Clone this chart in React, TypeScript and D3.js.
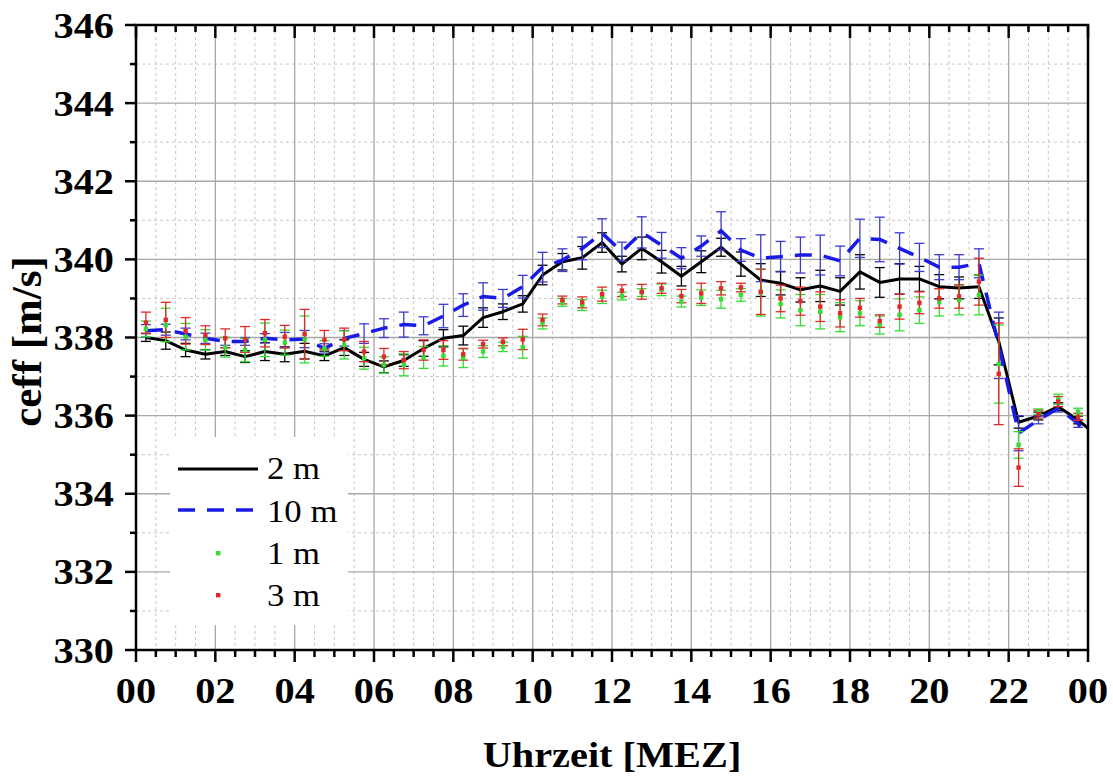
import React from "react";
import * as d3 from "d3";

const times = [0.25,0.75,1.25,1.75,2.25,2.75,3.25,3.75,4.25,4.75,5.25,5.75,6.25,6.75,7.25,7.75,8.25,8.75,9.25,9.75,10.25,10.75,11.25,11.75,12.25,12.75,13.25,13.75,14.25,14.75,15.25,15.75,16.25,16.75,17.25,17.75,18.25,18.75,19.25,19.75,20.25,20.75,21.25,21.75,22.25,22.75,23.25,23.75,24.25];

const m2 = [338.00,337.92,337.68,337.57,337.64,337.51,337.64,337.57,337.65,337.53,337.74,337.44,337.25,337.41,337.72,337.98,338.05,338.51,338.66,338.86,339.60,339.94,340.04,340.43,339.88,340.28,339.94,339.57,339.94,340.31,339.88,339.47,339.39,339.22,339.32,339.18,339.68,339.41,339.50,339.50,339.30,339.27,339.30,337.90,335.83,335.99,336.23,335.89,335.46];
const m2Err = [0.1,0.22,0.17,0.12,0.1,0.15,0.23,0.19,0.2,0.12,0.2,0.18,0.15,0.15,0.2,0.22,0.24,0.25,0.2,0.21,0.25,0.21,0.29,0.25,0.2,0.29,0.29,0.25,0.28,0.23,0.31,0.42,0.3,0.31,0.4,0.35,0.44,0.38,0.39,0.32,0.31,0.28,0.3,0.6,0.15,0.1,0.1,0.1,0.1];

const m10 = [338.17,338.20,338.09,337.98,337.90,337.90,337.98,337.94,337.96,337.72,337.98,338.10,338.24,338.33,338.30,338.55,338.83,339.05,339.00,339.30,339.80,339.98,340.28,340.67,340.20,340.69,340.36,340.03,340.34,340.73,340.24,340.03,340.07,340.11,340.11,339.96,340.54,340.51,340.28,340.05,339.80,339.80,339.90,337.80,335.55,335.89,336.19,335.80,335.20];
const m10Err = [0.16,0.14,0.15,0.13,0.1,0.1,0.12,0.19,0.22,0.12,0.2,0.25,0.24,0.32,0.23,0.3,0.29,0.35,0.23,0.29,0.38,0.29,0.29,0.37,0.24,0.4,0.33,0.27,0.26,0.49,0.29,0.6,0.39,0.46,0.51,0.38,0.49,0.57,0.4,0.36,0.32,0.32,0.37,0.85,0.45,0.1,0.1,0.1,0.1];

const m1 = [338.22,338.32,338.02,337.94,337.75,337.68,337.94,337.87,337.95,337.72,337.81,337.47,337.30,337.30,337.49,337.53,337.47,337.64,337.76,337.75,338.36,338.90,338.83,339.04,339.06,339.15,339.22,338.92,339.02,338.98,339.09,339.15,338.86,338.70,338.66,338.52,338.62,338.32,338.58,338.70,338.90,338.96,339.09,337.32,335.25,336.10,336.42,336.10];
const m1Err = [0.2,0.43,0.34,0.26,0.25,0.3,0.43,0.32,0.6,0.2,0.36,0.28,0.21,0.28,0.28,0.26,0.24,0.15,0.12,0.28,0.14,0.1,0.14,0.17,0.1,0.1,0.15,0.14,0.2,0.23,0.16,0.6,0.36,0.4,0.44,0.37,0.32,0.23,0.41,0.34,0.35,0.38,0.51,1.0,0.34,0.07,0.13,0.09];

const m3 = [338.38,338.45,338.17,338.06,337.98,337.95,338.11,338.02,338.09,337.94,337.95,337.64,337.51,337.42,337.68,337.68,337.57,337.83,337.89,337.95,338.45,338.96,338.90,339.11,339.20,339.17,339.26,339.06,339.13,339.26,339.28,339.17,339.00,338.93,338.79,338.62,338.76,338.42,338.79,338.89,339.00,339.05,339.43,337.07,334.67,336.04,336.36,335.97];
const m3Err = [0.27,0.45,0.34,0.24,0.24,0.33,0.35,0.29,0.63,0.24,0.29,0.26,0.21,0.22,0.26,0.24,0.15,0.1,0.1,0.26,0.15,0.1,0.14,0.18,0.15,0.19,0.13,0.17,0.26,0.17,0.11,0.58,0.34,0.36,0.38,0.35,0.24,0.16,0.32,0.28,0.25,0.3,0.6,1.3,0.48,0.1,0.13,0.09];

const xTickLabels = ["00","02","04","06","08","10","12","14","16","18","20","22","00"];
const yTicks = [330,332,334,336,338,340,342,344,346];
const legendLabels = ["2 m","10 m","1 m","3 m"];

const W = 1113, H = 776;
const L = 136, T = 25, R = 1088, B = 650;
const FONT = "'Liberation Serif', 'Times New Roman', serif";
const SX = 1.12; // horizontal stretch of glyphs in the original picture

const COL_BLACK = "#000000";
const COL_BLUE = "#1a1ae6";
const COL_BLUE_ERR = "#3b3bd0";
const COL_GREEN = "#33dd33";
const COL_RED = "#e02a2a";

export default function App() {
  const x = d3.scaleLinear().domain([0, 24]).range([L, R]);
  const y = d3.scaleLinear().domain([330, 346]).range([B, T]);

  const minorX = d3.range(0, 24.01, 0.5);
  const majorX = d3.range(0, 24.01, 2);
  const minorY = d3.range(331, 346, 2);

  const line = d3.line<number>().x((_, i) => x(times[i])).y((d) => y(d));

  const errBars = (vals: number[], errs: number[], color: string, w: number, key: string) =>
    vals.map((v, i) => {
      const cx = x(times[i]);
      const e = errs[i] ?? 0.1;
      const y1 = y(v + e), y2 = y(v - e);
      return (
        <g key={key + i} stroke={color} strokeWidth={w} fill="none">
          <line x1={cx} x2={cx} y1={y1} y2={y2} />
          <line x1={cx - 5} x2={cx + 5} y1={y1} y2={y1} />
          <line x1={cx - 5} x2={cx + 5} y1={y2} y2={y2} />
        </g>
      );
    });

  const pts = (vals: number[], color: string, key: string) =>
    vals.map((v, i) => (
      <rect key={key + i} x={x(times[i]) - 2.2} y={y(v) - 2.2} width={4.4} height={4.4} fill={color} />
    ));

  const sText = (px: number, py: number, s: string, size: number, anchor: string, bold: boolean, k: string, dy = "0") => (
    <g key={k} transform={`translate(${px},${py}) scale(${SX},1)`}>
      <text x={0} y={0} dy={dy} textAnchor={anchor} fontSize={size} fontWeight={bold ? "bold" : "normal"}>{s}</text>
    </g>
  );

  return (
    <svg width={W} height={H} style={{ position: "absolute", left: 0, top: 0, background: "#fff" }} fontFamily={FONT}>
      <defs>
        <clipPath id="plotclip">
          <rect x={L} y={T} width={R - L} height={B - T} />
        </clipPath>
      </defs>
      <rect x={0} y={0} width={W} height={H} fill="#fff" />
      {minorX.filter((t) => t % 2 !== 0).map((t) => (
        <line key={"mx" + t} x1={x(t)} x2={x(t)} y1={T} y2={B} stroke="#c8c8c8" strokeWidth={1} strokeDasharray="3,3" />
      ))}
      {minorY.map((v) => (
        <line key={"my" + v} x1={L} x2={R} y1={y(v)} y2={y(v)} stroke="#c8c8c8" strokeWidth={1} strokeDasharray="3,3" />
      ))}
      {majorX.slice(1, -1).map((t) => (
        <line key={"Mx" + t} x1={x(t)} x2={x(t)} y1={T} y2={B} stroke="#a8a8a8" strokeWidth={1.3} />
      ))}
      {yTicks.slice(1, -1).map((v) => (
        <line key={"My" + v} x1={L} x2={R} y1={y(v)} y2={y(v)} stroke="#a8a8a8" strokeWidth={1.3} />
      ))}
      <rect x={170} y={437} width={178} height={188} fill="#fff" />

      <g clipPath="url(#plotclip)">
        {errBars(m2, m2Err, COL_BLACK, 1.3, "e2")}
        <path d={line(m2) || ""} fill="none" stroke={COL_BLACK} strokeWidth={3} strokeLinejoin="round" />
        {errBars(m10, m10Err, COL_BLUE_ERR, 1.3, "e10")}
        <path d={line(m10) || ""} fill="none" stroke={COL_BLUE} strokeWidth={3.5} strokeDasharray="17,12" />
        {errBars(m1, m1Err, COL_GREEN, 1.3, "e1")}
        {errBars(m3, m3Err, COL_RED, 1.3, "e3")}
        {pts(m1, COL_GREEN, "p1")}
        {pts(m3, COL_RED, "p3")}
      </g>

      <rect x={L} y={T} width={R - L} height={B - T} fill="none" stroke="#000" strokeWidth={2.5} />
      {minorX.map((t) => {
        const major = Math.abs(t % 2) < 1e-6;
        return <line key={"bt" + t} x1={x(t)} x2={x(t)} y1={B} y2={B + (major ? 12 : 7)} stroke="#000" strokeWidth={2.5} />;
      })}
      {minorX.map((t) => {
        const major = Math.abs(t % 2) < 1e-6;
        return <line key={"tt" + t} x1={x(t)} x2={x(t)} y1={T} y2={T + (major ? 13 : 7)} stroke="#000" strokeWidth={2.5} />;
      })}
      {d3.range(330, 346.01, 1).map((v) => {
        const major = v % 2 === 0;
        return <line key={"lt" + v} x1={L - (major ? 11 : 6)} x2={L} y1={y(v)} y2={y(v)} stroke="#000" strokeWidth={2.5} />;
      })}
      {yTicks.map((v) => sText(L - 22, y(v), String(v), 36, "end", true, "yl" + v, "0.35em"))}
      {majorX.map((t, i) => sText(x(t), 703, xTickLabels[i], 36, "middle", true, "xl" + t))}
      {sText((L + R) / 2, 767, "Uhrzeit [MEZ]", 36, "middle", true, "xt")}
      <text transform={`translate(41, ${(T + B) / 2 + 4}) rotate(-90)`} textAnchor="middle" fontSize={43} fontWeight="bold">ceff [m/s]</text>

      <line x1={178} x2={258} y1={469} y2={469} stroke={COL_BLACK} strokeWidth={3} />
      {sText(267, 479, legendLabels[0], 31, "start", false, "lg0")}
      <line x1={178} x2={258} y1={510} y2={510} stroke={COL_BLUE} strokeWidth={3.5} strokeDasharray="17,12" />
      {sText(267, 522, legendLabels[1], 31, "start", false, "lg1")}
      <rect x={216} y={551} width={4.4} height={4.4} fill={COL_GREEN} />
      {sText(267, 564, legendLabels[2], 31, "start", false, "lg2")}
      <rect x={216} y={593} width={4.4} height={4.4} fill={COL_RED} />
      {sText(267, 606, legendLabels[3], 31, "start", false, "lg3")}
    </svg>
  );
}
